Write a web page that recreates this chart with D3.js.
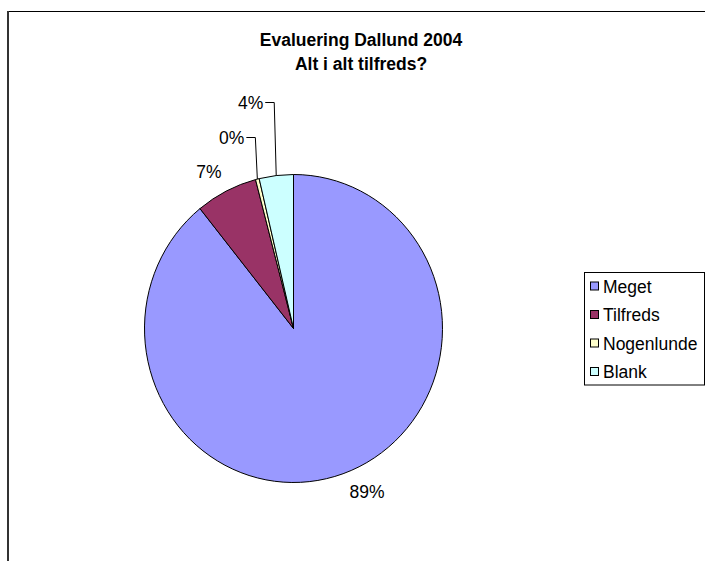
<!DOCTYPE html>
<html>
<head>
<meta charset="utf-8">
<script src="https://cdn.jsdelivr.net/npm/d3@7"></script>
<style>
  html, body { margin: 0; padding: 0; background: #fff; }
  svg { display: block; font-family: "Liberation Sans", Arial, sans-serif; }
</style>
</head>
<body>
<div id="container"></div>
<script>
"use strict"

// chart data (share of answers, percent)
const categories = ["Meget", "Tilfreds", "Nogenlunde", "Blank"];
const shares = [89.2, 6.7, 0.4, 3.7];
const sliceColors = ["#9999FF", "#993366", "#FFFFCC", "#CCFFFF"];
const titleLines = ["Evaluering Dallund 2004", "Alt i alt tilfreds?"];

const width = 705;
const height = 561;
const centerX = 293.5;
const centerY = 328.5;
const radiusX = 149;
const radiusY = 154;
const fontSize = 17.5;
const smallShare = 5;       // slices under this get a raised label with a leader
const legendX = 584.5;
const legendY = 272.5;
const legendRowStep = 28.5;

let svg;


function Main()
{
    CreateSVG();
    DrawFrame();
    DrawTitle();
    DrawPie();
    DrawLegend();
};


function CreateSVG()
{
    svg = d3.select("#container")
        .append("svg")
        .attr("width", width)
        .attr("height", height);
};


function DrawFrame()
{
    svg.append("line")
        .attr("x1", 7).attr("x2", width)
        .attr("y1", 11.5).attr("y2", 11.5)
        .attr("stroke", "#000")
        .attr("stroke-width", 1);

    svg.append("line")
        .attr("x1", 8).attr("x2", 8)
        .attr("y1", 11).attr("y2", height)
        .attr("stroke", "#333")
        .attr("stroke-width", 2);
};


function DrawTitle()
{
    svg.append("g")
        .selectAll("text")
        .data(titleLines)
        .enter()
        .append("text")
        .attr("x", 361)
        .attr("y", (_, i) => 46 + i * 23.5)
        .attr("text-anchor", "middle")
        .attr("font-size", fontSize)
        .attr("font-weight", "bold")
        .text(d => d);
};


// point on the (slightly elliptic) pie edge for an angle, scaled by k
function EdgePoint(angle, k)
{
    return [centerX + Math.sin(angle) * radiusX * k, centerY - Math.cos(angle) * radiusY * k];
};


function DrawPie()
{
    const total = d3.sum(shares);
    const pie = d3.pie().sort(null).value(d => d);
    const arcs = pie(shares);
    const arc = d3.arc().innerRadius(0).outerRadius(radiusX);

    svg.append("g")
        .attr("transform", `translate(${centerX},${centerY}) scale(1,${radiusY / radiusX})`)
        .selectAll("path")
        .data(arcs)
        .enter()
        .append("path")
        .attr("d", arc)
        .attr("fill", (_, i) => sliceColors[i])
        .attr("stroke", "#000")
        .attr("stroke-width", 1)
        .attr("vector-effect", "non-scaling-stroke");

    const labels = svg.append("g")
        .attr("font-size", fontSize)
        .attr("fill", "#000");

    let raised = 0;
    arcs.forEach((a, i) => {
        const mid = (a.startAngle + a.endAngle) / 2;
        const percent = shares[i] / total * 100;
        const text = d3.format(".0f")(percent) + "%";

        if(percent < smallShare)
        {
            // small slice: raise label above the pie and draw a leader
            const edge = EdgePoint(mid, 1);
            const labelY = centerY - radiusY - 37 - raised * 35;
            raised += 1;

            labels.append("polyline")
                .attr("points", [[edge[0], edge[1]], [edge[0] - 2, labelY], [edge[0] - 11, labelY]].map(p => p.join(",")).join(" "))
                .attr("fill", "none")
                .attr("stroke", "#000")
                .attr("stroke-width", 1);

            labels.append("text")
                .attr("x", edge[0] - 13)
                .attr("y", labelY + 6)
                .attr("text-anchor", "end")
                .text(text);
        }
        else
        {
            const p = EdgePoint(mid, 1.13);
            labels.append("text")
                .attr("x", Math.sin(mid) > 0 ? p[0] : p[0] + 4)
                .attr("y", p[1] + 5)
                .attr("text-anchor", Math.sin(mid) > 0 ? "start" : "end")
                .text(text);
        }
    });
};


function DrawLegend()
{
    const legend = svg.append("g");

    legend.append("rect")
        .attr("x", legendX)
        .attr("y", legendY)
        .attr("width", width - 0.5 - legendX)
        .attr("height", 112.5)
        .attr("fill", "#fff")
        .attr("stroke", "#000")
        .attr("stroke-width", 1);

    const rows = legend.selectAll(".legend-item")
        .data(categories)
        .enter()
        .append("g")
        .attr("class", "legend-item")
        .attr("transform", (_, i) => `translate(0,${legendY + 14 + i * legendRowStep})`);

    rows.append("rect")
        .attr("x", 590.5)
        .attr("y", -4.5)
        .attr("width", 8)
        .attr("height", 8)
        .attr("fill", (_, i) => sliceColors[i])
        .attr("stroke", "#000")
        .attr("stroke-width", 1);

    rows.append("text")
        .attr("x", 603)
        .attr("y", 6)
        .attr("font-size", fontSize)
        .text(d => d);
};


Main();
</script>
</body>
</html>
